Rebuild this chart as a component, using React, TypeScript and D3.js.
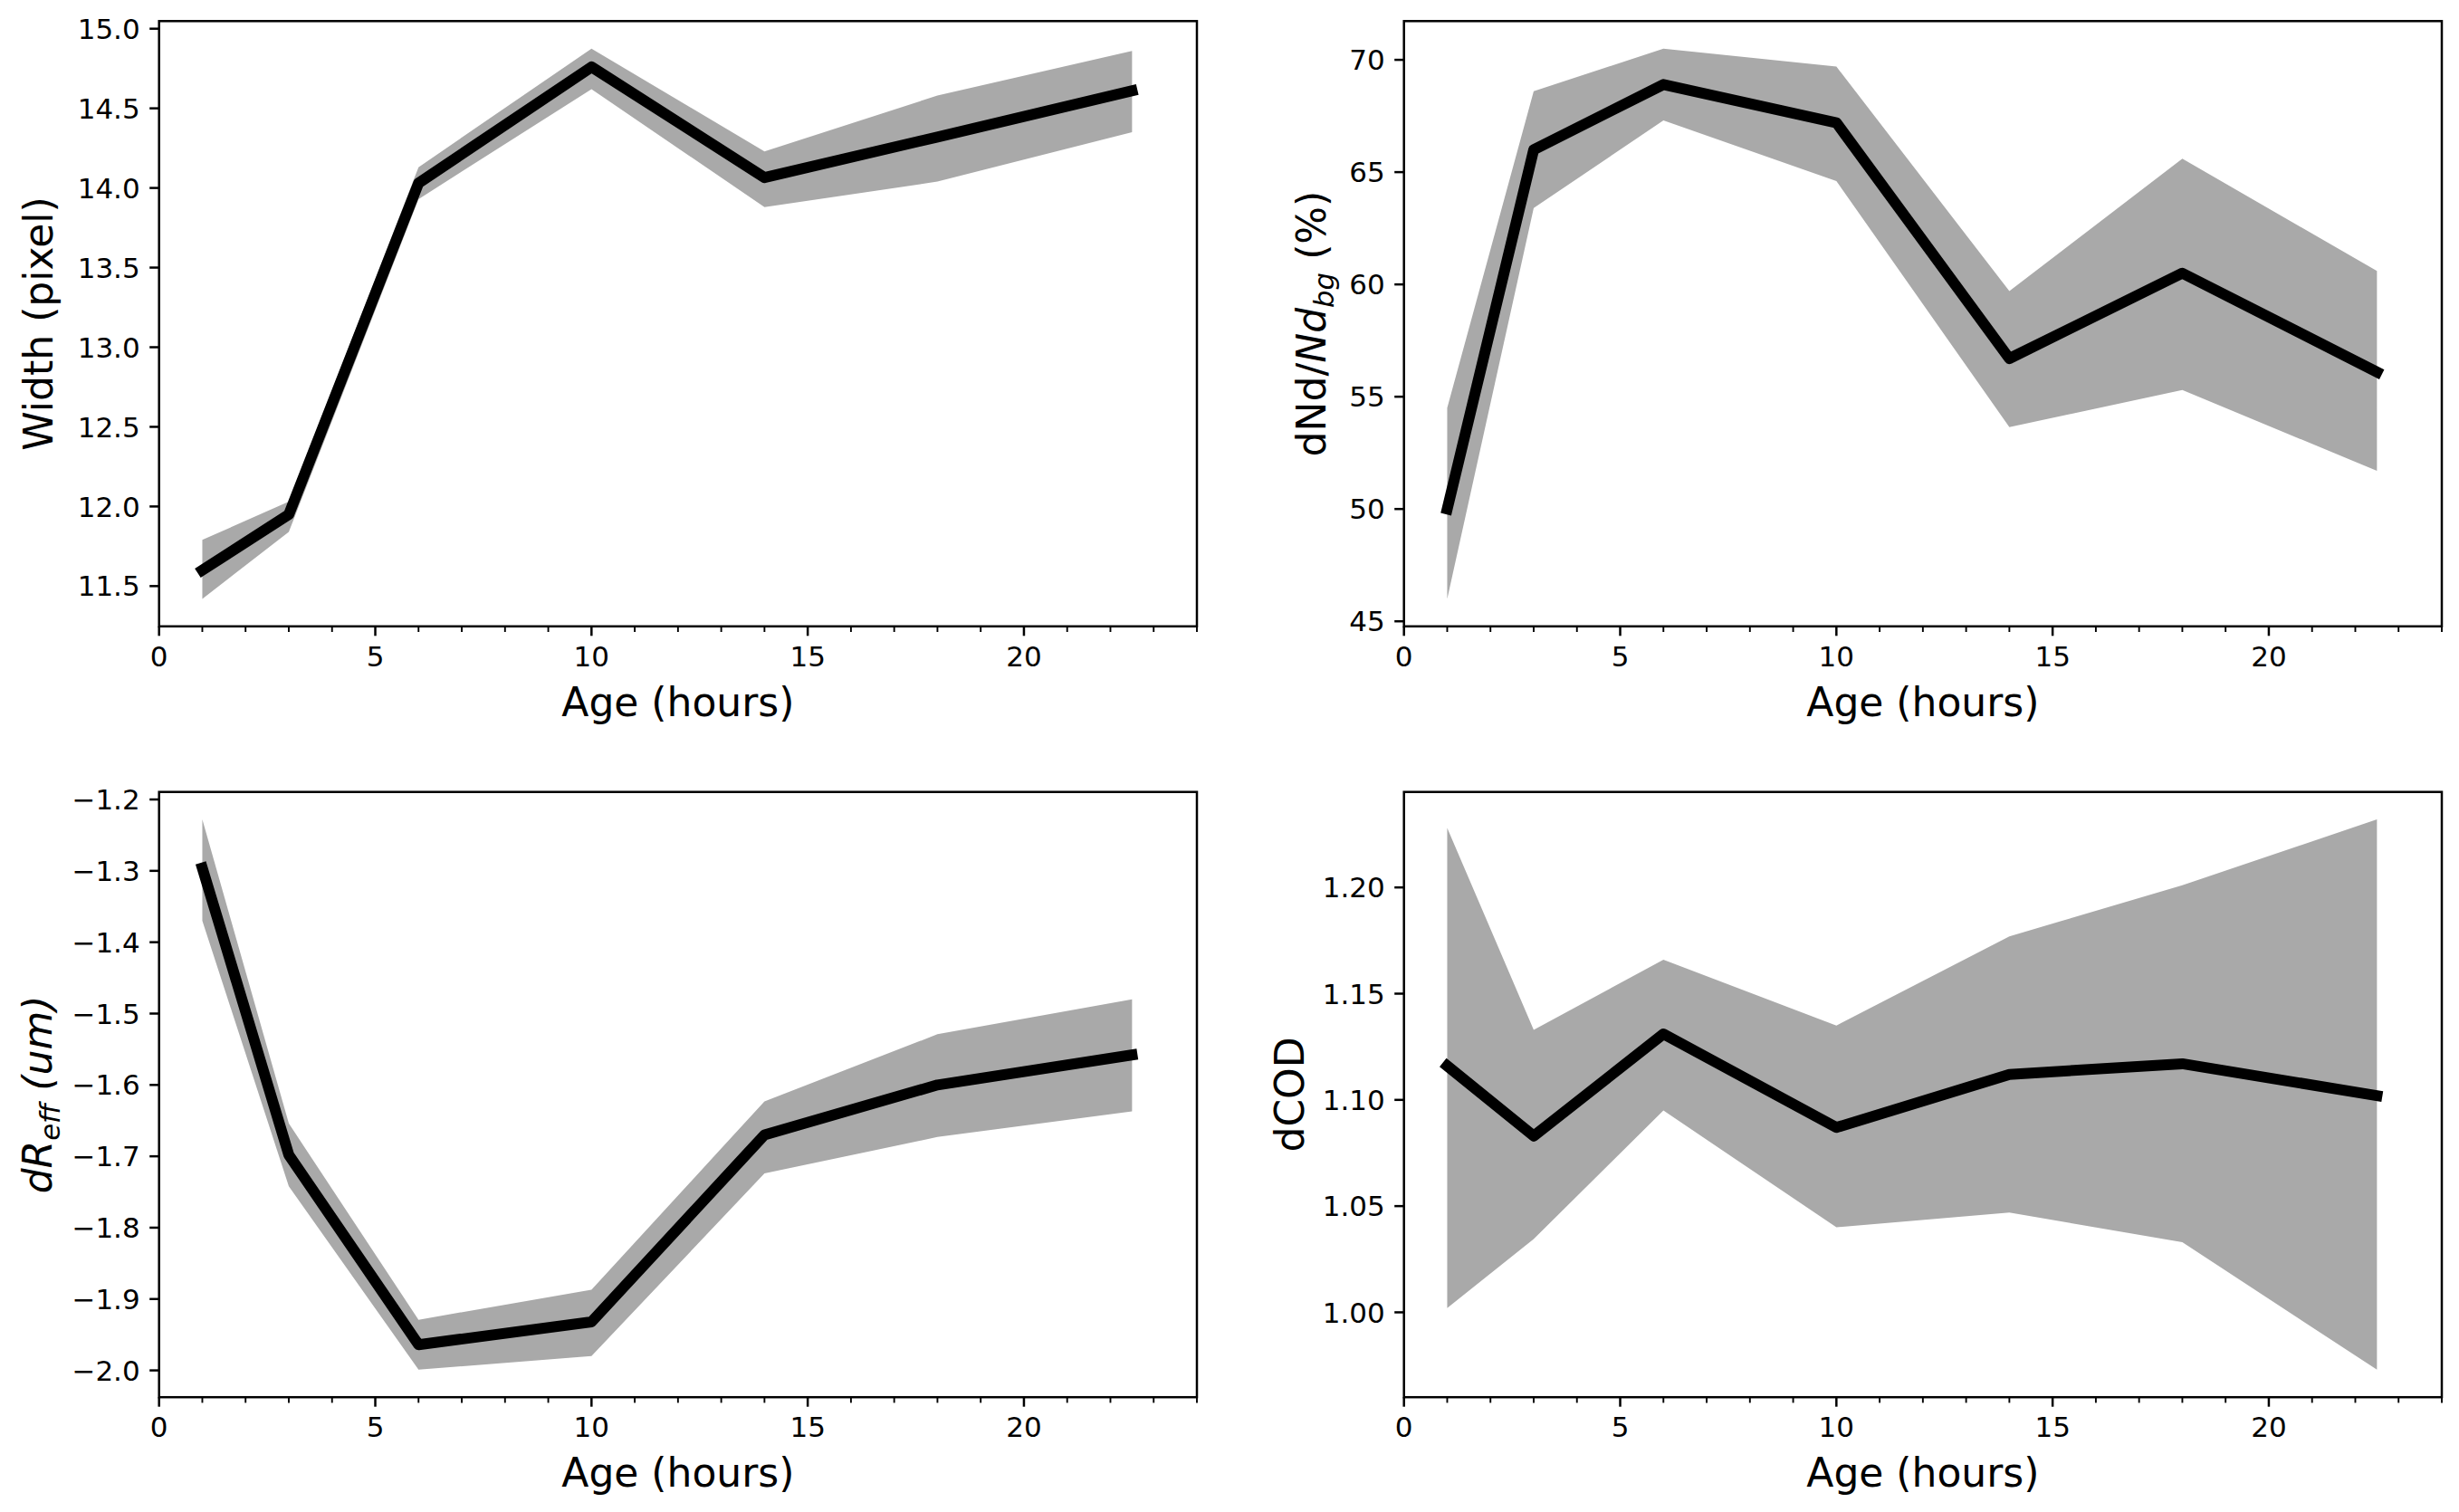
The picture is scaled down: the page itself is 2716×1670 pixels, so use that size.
import React, { useEffect, useRef } from "react";
import * as d3 from "d3";

// sample ages (hours)
const ages = [1, 3, 6, 10, 14, 18, 22.5];

// cloud width (pixel)
const widthMean = [11.6, 11.95, 14.03, 14.76, 14.065, 14.32, 14.61];
const widthUpper = [11.79, 12.03, 14.13, 14.875, 14.23, 14.58, 14.86];
const widthLower = [11.42, 11.84, 13.93, 14.62, 13.88, 14.04, 14.35];

// dNd / Nd_bg (%)
const ndMean = [50.0, 66.0, 68.9, 67.2, 56.7, 60.5, 56.1];
const ndUpper = [54.5, 68.6, 70.5, 69.7, 59.7, 65.6, 60.6];
const ndLower = [46.0, 63.4, 67.3, 64.6, 53.65, 55.3, 51.7];

// dR_eff (um)
const reffMean = [-1.296, -1.698, -1.964, -1.932, -1.67, -1.6, -1.558];
const reffUpper = [-1.228, -1.654, -1.929, -1.887, -1.623, -1.529, -1.48];
const reffLower = [-1.37, -1.742, -1.999, -1.98, -1.724, -1.673, -1.637];

// dCOD
const codMean = [1.116, 1.083, 1.131, 1.087, 1.112, 1.117, 1.102];
const codUpper = [1.228, 1.133, 1.166, 1.135, 1.177, 1.201, 1.232];
const codLower = [1.002, 1.0345, 1.095, 1.04, 1.047, 1.033, 0.973];

// tick values
const xMajorTicks = [0, 5, 10, 15, 20];
const xMinorTicks = d3.range(0, 25, 1);
const widthTicks = [11.5, 12.0, 12.5, 13.0, 13.5, 14.0, 14.5, 15.0];
const ndTicks = [45, 50, 55, 60, 65, 70];
const reffTicks = [-2.0, -1.9, -1.8, -1.7, -1.6, -1.5, -1.4, -1.3, -1.2];
const codTicks = [1.0, 1.05, 1.1, 1.15, 1.2];

const FONT = "'DejaVu Sans', sans-serif";
const TICK_FS = 31;
const LABEL_FS = 44;

type LabelPart = { text: string; italic?: boolean; sub?: boolean };

interface PanelProps {
  left: number;
  top: number;
  width: number;
  height: number;
  mean: number[];
  upper: number[];
  lower: number[];
  yTicks: number[];
  yFormat: string;
  yLabel: LabelPart[];
  yLabelX: number;
}

const Panel: React.FC<PanelProps> = ({
  left,
  top,
  width,
  height,
  mean,
  upper,
  lower,
  yTicks,
  yFormat,
  yLabel,
  yLabelX,
}) => {
  const ref = useRef<SVGGElement>(null);

  useEffect(() => {
    if (!ref.current) return;
    const g = d3.select(ref.current);
    g.selectAll("*").remove();

    const x = d3.scaleLinear().domain([0, 24]).range([0, width]);
    // matplotlib-like 5% margins around the data
    const lo = d3.min(lower) as number;
    const hi = d3.max(upper) as number;
    const pad = (hi - lo) * 0.05;
    const y = d3.scaleLinear().domain([lo - pad, hi + pad]).range([height, 0]);

    const idx = d3.range(ages.length);

    const area = d3
      .area<number>()
      .x((i) => x(ages[i]))
      .y0((i) => y(lower[i]))
      .y1((i) => y(upper[i]));

    g.append("path").attr("d", area(idx)).attr("fill", "#a9a9a9");

    const line = d3
      .line<number>()
      .x((i) => x(ages[i]))
      .y((i) => y(mean[i]));

    g.append("path")
      .attr("d", line(idx))
      .attr("fill", "none")
      .attr("stroke", "#000")
      .attr("stroke-width", 12)
      .attr("stroke-linejoin", "round")
      .attr("stroke-linecap", "square");

    // frame
    g.append("rect")
      .attr("x", 0)
      .attr("y", 0)
      .attr("width", width)
      .attr("height", height)
      .attr("fill", "none")
      .attr("stroke", "#000")
      .attr("stroke-width", 2.5);

    // x axis
    const xAxis = g.append("g").attr("transform", `translate(0,${height})`);
    xMinorTicks
      .filter((t) => !xMajorTicks.includes(t))
      .forEach((t) => {
        xAxis
          .append("line")
          .attr("x1", x(t))
          .attr("x2", x(t))
          .attr("y1", 0)
          .attr("y2", 6.2)
          .attr("stroke", "#000")
          .attr("stroke-width", 1.9);
      });
    xMajorTicks.forEach((t) => {
      xAxis
        .append("line")
        .attr("x1", x(t))
        .attr("x2", x(t))
        .attr("y1", 0)
        .attr("y2", 10.5)
        .attr("stroke", "#000")
        .attr("stroke-width", 2.5);
      xAxis
        .append("text")
        .attr("x", x(t))
        .attr("y", 44)
        .attr("text-anchor", "middle")
        .attr("font-family", FONT)
        .attr("font-size", TICK_FS)
        .attr("fill", "#000")
        .text(String(t));
    });
    xAxis
      .append("text")
      .attr("x", width / 2)
      .attr("y", 99)
      .attr("text-anchor", "middle")
      .attr("font-family", FONT)
      .attr("font-size", LABEL_FS)
      .attr("fill", "#000")
      .text("Age (hours)");

    // y axis
    const fmt = d3.format(yFormat);
    const yAxis = g.append("g");
    yTicks.forEach((t) => {
      yAxis
        .append("line")
        .attr("x1", -10.5)
        .attr("x2", 0)
        .attr("y1", y(t))
        .attr("y2", y(t))
        .attr("stroke", "#000")
        .attr("stroke-width", 2.5);
      yAxis
        .append("text")
        .attr("x", -21)
        .attr("y", y(t))
        .attr("dy", "0.36em")
        .attr("text-anchor", "end")
        .attr("font-family", FONT)
        .attr("font-size", TICK_FS)
        .attr("fill", "#000")
        .text(fmt(t));
    });

    const label = yAxis
      .append("text")
      .attr(
        "transform",
        `translate(${yLabelX - left},${height / 2}) rotate(-90)`
      )
      .attr("dy", "0.3em")
      .attr("text-anchor", "middle")
      .attr("font-family", FONT)
      .attr("font-size", LABEL_FS)
      .attr("fill", "#000");

    let shifted = false;
    yLabel.forEach((part) => {
      const ts = label.append("tspan").text(part.text);
      if (part.italic) ts.attr("font-style", "italic");
      if (part.sub && !shifted) {
        ts.attr("font-size", LABEL_FS * 0.7).attr("dy", 9);
        shifted = true;
      } else if (!part.sub && shifted) {
        ts.attr("dy", -9);
        shifted = false;
      }
    });
  }, [left, top, width, height, mean, upper, lower, yTicks, yFormat, yLabel, yLabelX]);

  return <g ref={ref} transform={`translate(${left},${top})`} />;
};

const COL_LEFT = [175.7, 1550.7];
const AX_W = 1146.3;
const ROW_TOP = [23.3, 874.7];
const AX_H = 668.5;

export default function App() {
  return (
    <svg
      width={2716}
      height={1670}
      style={{ position: "absolute", left: 0, top: 0, background: "#fff" }}
    >
      <rect x={0} y={0} width={2716} height={1670} fill="#fff" />
      <Panel
        left={COL_LEFT[0]}
        top={ROW_TOP[0]}
        width={AX_W}
        height={AX_H}
        mean={widthMean}
        upper={widthUpper}
        lower={widthLower}
        yTicks={widthTicks}
        yFormat=".1f"
        yLabel={[{ text: "Width (pixel)" }]}
        yLabelX={45}
      />
      <Panel
        left={COL_LEFT[1]}
        top={ROW_TOP[0]}
        width={AX_W}
        height={AX_H}
        mean={ndMean}
        upper={ndUpper}
        lower={ndLower}
        yTicks={ndTicks}
        yFormat="d"
        yLabel={[
          { text: "dNd/" },
          { text: "Nd", italic: true },
          { text: "bg", italic: true, sub: true },
          { text: " (%)" },
        ]}
        yLabelX={1451}
      />
      <Panel
        left={COL_LEFT[0]}
        top={ROW_TOP[1]}
        width={AX_W}
        height={AX_H}
        mean={reffMean}
        upper={reffUpper}
        lower={reffLower}
        yTicks={reffTicks}
        yFormat=".1f"
        yLabel={[
          { text: "dR", italic: true },
          { text: "eff", italic: true, sub: true },
          { text: " (um)", italic: true },
        ]}
        yLabelX={44}
      />
      <Panel
        left={COL_LEFT[1]}
        top={ROW_TOP[1]}
        width={AX_W}
        height={AX_H}
        mean={codMean}
        upper={codUpper}
        lower={codLower}
        yTicks={codTicks}
        yFormat=".2f"
        yLabel={[{ text: "dCOD" }]}
        yLabelX={1427}
      />
    </svg>
  );
}
